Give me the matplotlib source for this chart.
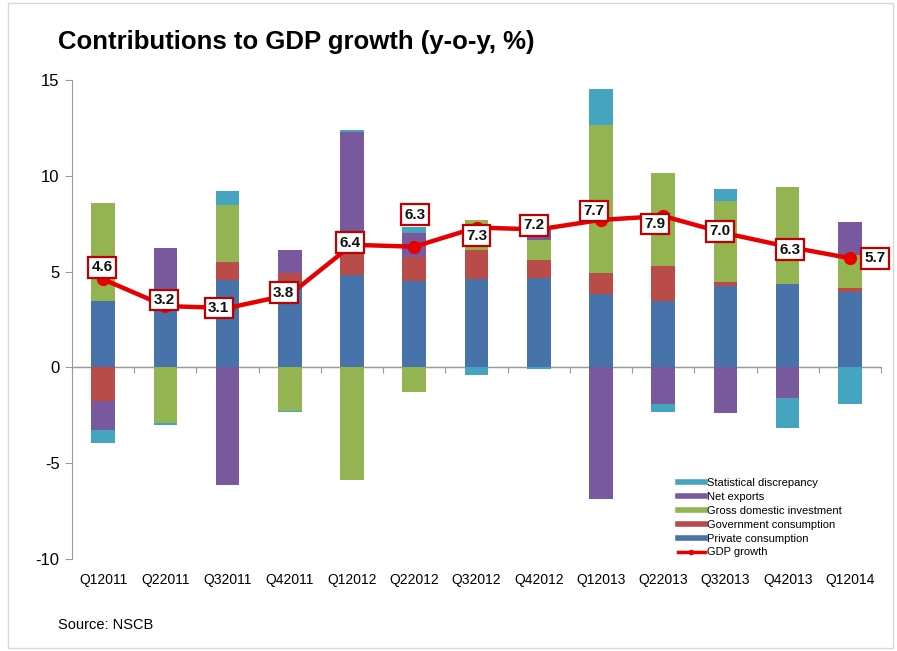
import numpy as np
import matplotlib
matplotlib.use("Agg")
import matplotlib.pyplot as plt
from matplotlib.lines import Line2D
from matplotlib.patches import Rectangle

plt.rcParams['font.family'] = ['Liberation Sans', 'DejaVu Sans']
plt.rcParams['axes.unicode_minus'] = False

quarters = ["Q12011", "Q22011", "Q32011", "Q42011", "Q12012", "Q22012", "Q32012",
            "Q42012", "Q12013", "Q22013", "Q32013", "Q42013", "Q12014"]

private_consumption = [3.47, 3.45, 4.55, 4.50, 4.80, 4.50, 4.63, 4.65, 3.82, 3.47, 4.27, 4.34, 3.94]
government_consumption = [-1.76, 0.00, 0.95, 0.45, 1.30, 1.27, 1.49, 0.94, 1.11, 1.83, 0.17, 0.00, 0.23]
gross_domestic_investment = [5.09, -2.89, 2.97, -2.25, -5.90, -1.29, 1.56, 1.05, 7.72, 4.86, 4.25, 5.05, 1.68]
net_exports = [-1.53, 2.79, -6.13, 1.17, 6.20, 1.25, 0.00, 0.61, -6.86, -1.90, -2.37, -1.58, 1.75]
statistical_discrepancy = [-0.67, -0.14, 0.73, -0.08, 0.10, 0.31, -0.42, -0.07, 1.87, -0.43, 0.60, -1.57, -1.93]

gdp_growth = [4.6, 3.2, 3.1, 3.8, 6.4, 6.3, 7.3, 7.2, 7.7, 7.9, 7.0, 6.3, 5.7]

series_names = ["Private consumption", "Government consumption", "Gross domestic investment",
                "Net exports", "Statistical discrepancy"]
series_values = [private_consumption, government_consumption, gross_domestic_investment,
                 net_exports, statistical_discrepancy]
series_colors = ["#4772AA", "#B94B48", "#93B451", "#79599E", "#45A4BF"]

# label offsets (pixels) relative to each GDP point
label_dx = [-1, -1, -9, -6, -2, 1, 0, -5, -7, -8, -5, 2, 25]
label_dy = [12, 6, 0, 2, 2, 32, -8, 4, 9, -8, 2, -3, 0]

fig = plt.figure(figsize=(8.97, 6.51), dpi=100)
ax = fig.add_axes([72 / 897, 1 - 559 / 651, (881 - 72) / 897, (559 - 80) / 651])

x = np.arange(len(quarters))
pos_bottom = np.zeros(len(quarters))
neg_bottom = np.zeros(len(quarters))
for name, vals, col in zip(series_names, series_values, series_colors):
    v = np.array(vals, dtype=float)
    bottom = np.where(v >= 0, pos_bottom, neg_bottom)
    ax.bar(x, v, width=0.38, bottom=bottom, color=col, label=name, zorder=2)
    pos_bottom = pos_bottom + np.where(v > 0, v, 0)
    neg_bottom = neg_bottom + np.where(v < 0, v, 0)

line_red = "#E60000"
ax.plot(x, gdp_growth, color=line_red, lw=3.2, marker='o', markersize=8.5,
        markerfacecolor=line_red, markeredgecolor=line_red, zorder=4)

for xi, v, dx, dy in zip(x, gdp_growth, label_dx, label_dy):
    ax.annotate(f"{v:.1f}", (xi, v), xytext=(dx, dy), textcoords='offset pixels',
                ha='center', va='center', fontsize=11, fontweight='bold', color='#111111',
                bbox=dict(boxstyle='square,pad=0.22', fc='white', ec='#C00000', lw=1.6),
                zorder=6, annotation_clip=False)

ax.set_xlim(-0.5, len(quarters) - 0.5)
ax.set_ylim(-10, 15)
ax.set_yticks(np.arange(-10, 16, 5))
ax.set_xticks(x, quarters)

axis_gray = "#9A9A9A"
for s in ['top', 'right', 'bottom']:
    ax.spines[s].set_visible(False)
ax.spines['left'].set_color(axis_gray)
ax.tick_params(axis='y', direction='out', length=5, color=axis_gray, labelsize=12, pad=4)
ax.tick_params(axis='x', length=0, labelsize=10, pad=10)
ax.axhline(0, color=axis_gray, lw=1, zorder=1)

sec = ax.secondary_xaxis(10 / 25)
sec.set_xticks(np.arange(-0.5, len(quarters), 1.0))
sec.set_xticklabels([])
sec.tick_params(axis='x', direction='out', length=4, color=axis_gray)
sec.spines['bottom'].set_color(axis_gray)

handles = [Line2D([], [], color=c, lw=4) for c in series_colors[::-1]]
labels = series_names[::-1]
handles.append(Line2D([], [], color=line_red, lw=2.5, marker='o', markersize=3))
labels.append("GDP growth")
fig.legend(handles, labels, loc='upper left', bbox_to_anchor=(678 / 897, 1 - 478 / 651),
           frameon=False, fontsize=8, handlelength=2.4, handletextpad=0.2,
           labelspacing=0.35, borderaxespad=0, borderpad=0)

fig.text(58 / 897, 1 - 42 / 651, "Contributions to GDP growth (y-o-y, %)",
         fontsize=18.5, fontweight='bold', va='center', ha='left')
fig.text(58 / 897, 1 - 625 / 651, "Source: NSCB", fontsize=10.5, va='center', ha='left')

fig.patches.append(Rectangle((8 / 897, 3 / 651), 885 / 897, 645 / 651, transform=fig.transFigure,
                             fill=False, ec='#D8D8D8', lw=1))

fig.savefig("out.png", dpi=100)
